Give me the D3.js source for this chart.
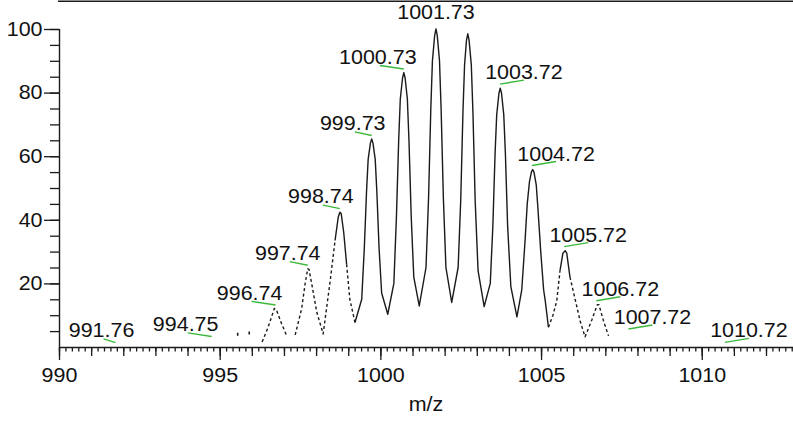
<!DOCTYPE html>
<html>
<head>
<meta charset="utf-8">
<script src="https://cdn.jsdelivr.net/npm/d3@7"></script>
<style>
body { margin: 0; background: #fff; }
text { font-family: "Liberation Sans", Arial, sans-serif; font-size: 19.5px; fill: #111; }
</style>
</head>
<body>
<svg id="chart" width="793" height="421"></svg>
<script>
//Centroid labels (m/z, relative intensity at the leader end)
const labelMz  = [991.76, 994.75, 996.74, 997.74, 998.74, 999.73, 1000.73, 1001.73, 1003.72, 1004.72, 1005.72, 1006.72, 1007.72, 1010.72];
const labelInt = [0.3, 2.2, 12.1, 24.6, 42.4, 65.4, 86.3, 100, 81.4, 55.8, 30.3, 13.3, 4.4, 0.2];

//Profile trace, one run per unbroken piece of the drawn line
const profile = [
    [[995.56, 4.0]],
    [[995.92, 4.4]],
    [[996.32, 1.6], [996.50, 6], [996.70, 12.1], [996.76, 11.8], [996.92, 7.5], [997.07, 3.9]],
    [[997.35, 3.8], [997.55, 12], [997.66, 20], [997.74, 24.6], [997.78, 24.4], [997.88, 19], [998.02, 11], [998.22, 4.1],
     [998.44, 20.9], [998.59, 33.5], [998.69, 40.9], [998.74, 42.4], [998.78, 42.0], [998.86, 36], [998.95, 26], [999.05, 15], [999.21, 7.7],
     [999.42, 15], [999.50, 31], [999.57, 49], [999.62, 59], [999.69, 64.1], [999.73, 65.4], [999.77, 64.1], [999.84, 59], [999.89, 49], [999.96, 31], [1000.04, 17], [1000.23, 10.3],
     [1000.42, 20], [1000.50, 41], [1000.57, 65], [1000.62, 78], [1000.69, 84.6], [1000.73, 86.3], [1000.77, 84.6], [1000.84, 78], [1000.89, 65], [1000.96, 41], [1001.04, 22], [1001.21, 12.9],
     [1001.42, 25], [1001.50, 47], [1001.57, 75], [1001.62, 90], [1001.69, 98], [1001.73, 100], [1001.77, 98], [1001.84, 90], [1001.89, 75], [1001.96, 47], [1002.04, 25], [1002.22, 14.0],
     [1002.42, 25], [1002.50, 46], [1002.57, 74], [1002.62, 88.7], [1002.68, 96.5], [1002.72, 98.5], [1002.76, 96.5], [1002.83, 88.7], [1002.88, 74], [1002.95, 46], [1003.04, 24], [1003.23, 12.7],
     [1003.42, 20], [1003.50, 38], [1003.57, 61], [1003.62, 73], [1003.69, 79.8], [1003.73, 81.4], [1003.77, 79.8], [1003.84, 73], [1003.89, 61], [1003.96, 38], [1004.06, 19], [1004.25, 9.5],
     [1004.40, 18], [1004.50, 33], [1004.57, 45], [1004.64, 52], [1004.70, 55], [1004.74, 55.8], [1004.78, 55], [1004.85, 51], [1004.90, 44], [1004.99, 30], [1005.08, 18], [1005.13, 14.6], [1005.23, 6.2],
     [1005.37, 10], [1005.49, 14.6], [1005.59, 24], [1005.68, 29.5], [1005.75, 30.3], [1005.80, 29.5], [1005.90, 22], [1006.07, 14.6], [1006.22, 8], [1006.37, 3.2],
     [1006.58, 8.5], [1006.75, 13.3], [1006.80, 13.3], [1006.95, 8], [1007.10, 3.5]]
];

const xMajor = [990, 995, 1000, 1005, 1010];
const yMajor = [20, 40, 60, 80, 100];
const xTitle = "m/z";

const W = 793, H = 421;
const ink = "#1a1a1a", green = "#3cb83c";
const sx = 1.1; //glyphs in the picture are a bit wider than Liberation Sans

const svg = d3.select("#chart");
svg.append("rect").attr("width", W).attr("height", H).attr("fill", "#fff");

const x = d3.scaleLinear().domain([990, 1012.84]).range([59, W]);
const y = d3.scaleLinear().domain([0, 100]).range([347, 29]);

function every(step, lo, hi) {
    return d3.range(Math.ceil(lo / step - 1e-9), Math.floor(hi / step + 1e-9) + 1)
	.map(k => +(k * step).toFixed(3));
}

//Widen text horizontally around its own anchor
function stretch(sel) {
    sel.each(function() {
	const t = d3.select(this);
	const tx = +t.attr("x") || 0, ty = +t.attr("y") || 0;
	t.attr("x", 0).attr("y", 0)
	    .attr("transform", `translate(${tx},${ty}) scale(${sx},1)`);
    });
}

function tickLayer(axis, size) {
    return g => {
	g.call(axis.tickSize(size).tickSizeOuter(0));
	g.select(".domain").remove();
	g.selectAll(".tick line").attr("stroke", ink).attr("stroke-width", 1.3);
    };
}

//X axis: minor every 0.2, medium every 1, major every 5
const gx = svg.append("g").attr("transform", `translate(0,${y(0)})`);
const [x0, x1] = x.domain();
gx.append("g").call(tickLayer(d3.axisBottom(x).tickValues(every(0.2, x0, x1)).tickFormat(""), 4.5));
gx.append("g").call(tickLayer(d3.axisBottom(x).tickValues(every(1, x0, x1)).tickFormat(""), 9));
gx.append("g").call(tickLayer(d3.axisBottom(x).tickValues(xMajor).tickFormat(d3.format("d")).tickPadding(8), 13));
gx.selectAll("text").attr("fill", "#111").style("font-size", "19.5px")
    .style("font-family", "'Liberation Sans', Arial, sans-serif").call(stretch);
gx.append("line").attr("x1", x.range()[0]).attr("x2", x.range()[1]).attr("y1", 0.5).attr("y2", 0.5)
    .attr("stroke", ink).attr("stroke-width", 1.4);

//Y axis: minor every 5, labelled every 20
const gy = svg.append("g").attr("transform", `translate(${x(990)},0)`);
gy.append("g").call(tickLayer(d3.axisLeft(y).tickValues(every(5, 5, 100)).tickFormat(""), 9));
gy.append("g").call(tickLayer(d3.axisLeft(y).tickValues(yMajor).tickFormat(d3.format("d")).tickPadding(1.5), 15));
gy.selectAll("text").attr("fill", "#111").style("font-size", "19.5px")
    .style("font-family", "'Liberation Sans', Arial, sans-serif").call(stretch);
gy.append("line").attr("x1", 0.5).attr("x2", 0.5).attr("y1", y(0)).attr("y2", y(100))
    .attr("stroke", ink).attr("stroke-width", 1.4);

//Top rule
svg.append("line").attr("x1", x.range()[0] - 1).attr("x2", W).attr("y1", 1.2).attr("y2", 1.2)
    .attr("stroke", ink).attr("stroke-width", 1.6);

svg.append("text").attr("x", (x.range()[0] + x.range()[1]) / 2).attr("y", 411)
    .attr("text-anchor", "middle").text(xTitle).call(stretch);

//Trace: weak peaks (and the lower flanks of mid ones) come out dotted
const line = d3.line().x(d => x(d[0])).y(d => y(d[1]));

function nearestLabel(mz) {
    return d3.minIndex(labelMz, m => Math.abs(m - mz));
}

function isDotted(a, b) {
    const hp = labelInt[nearestLabel((a[0] + b[0]) / 2)];
    const top = Math.max(a[1], b[1]);
    return hp < 26 || (hp < 45 && top < 0.8 * hp);
}

const gTrace = svg.append("g").attr("fill", "none").attr("stroke", ink)
    .attr("stroke-width", 1.4).attr("stroke-linejoin", "round");

profile.forEach(run => {
    if (run.length === 1) {
	gTrace.append("rect").attr("x", x(run[0][0]) - 0.8).attr("y", y(run[0][1]) - 1.5)
	    .attr("width", 1.6).attr("height", 3).attr("fill", ink).attr("stroke", "none");
	return;
    }
    let pieces = [];
    for (let i = 1; i < run.length; i++) {
	const dotted = isDotted(run[i - 1], run[i]);
	const last = pieces[pieces.length - 1];
	if (last && last.dotted === dotted) last.pts.push(run[i]);
	else pieces.push({dotted: dotted, pts: [run[i - 1], run[i]]});
    }
    pieces.forEach(p => {
	gTrace.append("path").attr("d", line(p.pts))
	    .attr("stroke-dasharray", p.dotted ? "3,2.6" : null);
    });
});

//Peak labels with green leaders; left of the base peak lean left, right of it lean right
const leader = {991.76: 12, 997.74: 18, 998.74: 17, 999.73: 17};
const basePeak = labelMz[d3.maxIndex(labelInt)];
const gLab = svg.append("g");

labelMz.forEach((mz, i) => {
    const X = x(mz), Y = y(labelInt[i]);
    let tx, ty;
    if (mz === basePeak) {
	tx = X; ty = Y - 10;
    } else if (mz < basePeak) {
	const L = leader[mz] || 24;
	gLab.append("line").attr("x1", X - L).attr("y1", Y - 7.1).attr("x2", X).attr("y2", Y - 3.5)
	    .attr("stroke", green).attr("stroke-width", 1.4);
	tx = X - L - 2; ty = Y - 9;
    } else {
	const L = leader[mz] || 24;
	gLab.append("line").attr("x1", X).attr("y1", Y - 4).attr("x2", X + L).attr("y2", Y - 8)
	    .attr("stroke", green).attr("stroke-width", 1.4);
	tx = X + L; ty = Y - 9;
    }
    gLab.append("text").attr("x", tx).attr("y", ty).attr("text-anchor", "middle")
	.text(mz.toFixed(2)).call(stretch);
});
</script>
</body>
</html>
